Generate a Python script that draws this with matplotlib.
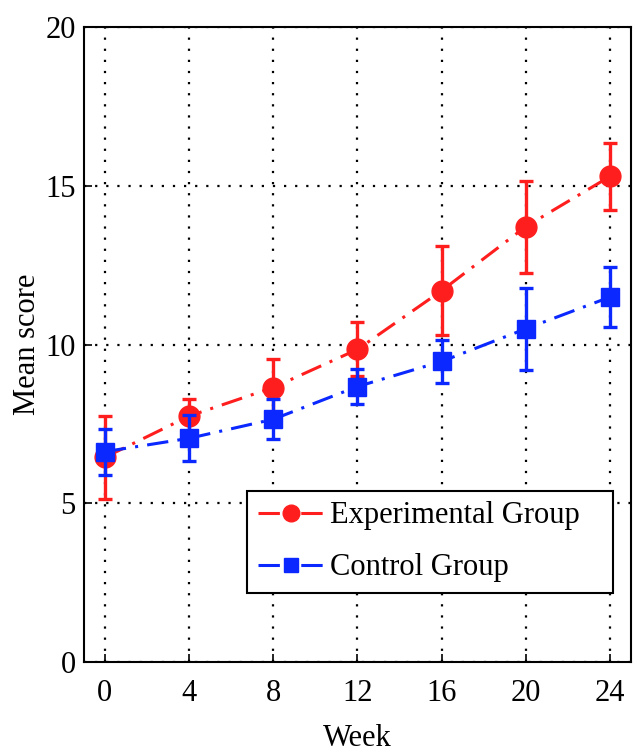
import matplotlib.pyplot as plt
import numpy as np

plt.rcParams['font.family'] = ['Liberation Serif', 'DejaVu Serif']

weeks = [0, 4, 8, 12, 16, 20, 24]
exp_mean = [6.45, 7.75, 8.65, 9.85, 11.7, 13.72, 15.3]
exp_err = [1.3, 0.55, 0.9, 0.85, 1.4, 1.45, 1.05]
ctl_mean = [6.63, 7.05, 7.65, 8.68, 9.47, 10.5, 11.5]
ctl_err = [0.72, 0.72, 0.63, 0.55, 0.68, 1.3, 0.95]

fig = plt.figure(figsize=(6.4, 7.55), dpi=100)
ax = fig.add_axes([0.131, 0.123, 0.855, 0.841])

red = '#ff1e1e'
blue = '#0a28ff'

# dash-dot like matlab '-.'
dd = (0, (7, 3, 1, 3))
e1 = ax.errorbar(weeks, exp_mean, yerr=exp_err, color=red, marker='o', markersize=15,
                 linestyle=dd, linewidth=2.2, elinewidth=2.4, capsize=5, capthick=2.4,
                 zorder=3)
e2 = ax.errorbar(weeks, ctl_mean, yerr=ctl_err, color=blue, marker='s', markersize=13,
                 linestyle=dd, linewidth=2.2, elinewidth=2.4, capsize=5, capthick=2.4,
                 zorder=4)

ax.set_xlim(-1, 25)
ax.set_ylim(0, 20)
ax.set_xticks(weeks)
ax.set_yticks([0, 5, 10, 15, 20])
ax.grid(True, color='black', linestyle=(0, (1, 4)), linewidth=1.6)
ax.tick_params(direction='in', labelsize=22, length=6, width=1.2)
ax.tick_params(axis='x', pad=12)
ax.tick_params(axis='y', pad=6)
for s in ax.spines.values():
    s.set_linewidth(1.5)

ax.set_xlabel('Week', fontsize=22, labelpad=12)
ax.set_ylabel('Mean score', fontsize=22, labelpad=2)

# trailing spaces give the wide right margin of the original legend box
leg = ax.legend(handles=[e1[0], e2[0]],
                labels=['Experimental Group   ', 'Control Group'],
                loc='lower right', bbox_to_anchor=(0.967, 0.109), fontsize=22,
                fancybox=False, framealpha=1, edgecolor='black', markerscale=0.8,
                handlelength=2.2, handletextpad=0.15, borderpad=0.35, labelspacing=0.75,
                borderaxespad=0)
leg.get_frame().set_linewidth(1.5)

plt.savefig('out.png')
